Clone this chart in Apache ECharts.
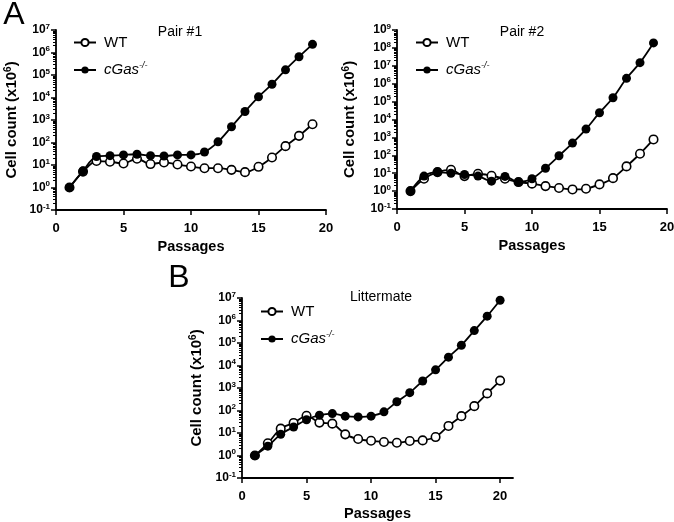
<!DOCTYPE html>
<html><head><meta charset="utf-8">
<script src="https://cdn.jsdelivr.net/npm/echarts@6/dist/echarts.min.js"></script>
<style>html,body{margin:0;padding:0;background:#fff}#c{width:674px;height:522px}</style>
</head><body><div id="c"></div>
<script>
// ---- data ----
const passagesA = [1,2,3,4,5,6,7,8,9,10,11,12,13,14,15,16,17,18,19];
const passagesB = [1,2,3,4,5,6,7,8,9,10,11,12,13,14,15,16,17,18,19,20];
const pair1WT   = [1,5.1,15,14,11.7,19,11,13,10.5,8.6,7.2,7.2,6.1,4.8,8.3,21.6,69,198,650];
const pair1cGas = [1,5.5,24,26,28,30,26,25,28,28,38,107,500,2400,10700,39000,170000,650000,2300000];
const pair2WT   = [1,4.9,11.5,15.5,6.9,9.3,7.2,4.9,3.2,2.6,1.9,1.5,1.24,1.35,2.36,5.3,24,122,770];
const pair2cGas = [1,6.9,11.5,10,8.5,6.9,3.6,6.6,3.2,4.9,19,94,480,2900,24000,163000,2.0e6,1.5e7,1.9e8];
const litWT     = [1,3.5,15.6,28,58,29,26,8.7,5.4,4.5,4.0,3.7,4.4,4.7,6.6,20.6,56,156,575,2130];
const litcGas   = [1,2.6,8.7,18.5,39,62,73,56,52,56,87,245,620,2050,6400,23500,79000,355000,1.56e6,7.9e6];
const xTicks = [0,5,10,15,20];
const panelTitles = ['Pair #1','Pair #2','Littermate'];
const seriesNames = ['WT','cGas'];

// ---- helpers ----
const FONT = 'Liberation Sans, Arial, sans-serif';
function decades(lo, hi){ const r=[]; for(let e=lo;e<=hi;e++) r.push(Math.pow(10,e)); return r; }
function expMajors(lo, hi){ const r=[]; for(let e=lo;e<=hi;e++) r.push(e); return r; }
function expMinors(lo, hi){ const r=[]; for(let e=lo;e<hi;e++) for(let k=2;k<=9;k++) r.push(e+Math.log10(k)); return r; }
function pairs(xs, ys){ return xs.map((x,i)=>[x, ys[i]]); }
const supRich = {
  b:{fontFamily:FONT,fontWeight:'bold',fontSize:12,color:'#000',lineHeight:15},
  s:{fontFamily:FONT,fontWeight:'bold',fontSize:8,color:'#000',verticalAlign:'top',lineHeight:15}
};
const nameRich = {
  s:{fontFamily:FONT,fontWeight:'bold',fontSize:10,color:'#000',verticalAlign:'top',lineHeight:18}
};
function yMain(grid, lo, hi, gap){
  const maj = decades(lo,hi);
  return {
    type:'log', gridIndex:grid, position:'left', min:Math.pow(10,lo), max:Math.pow(10,hi),
    name:'Cell count (x10{s|6})', nameLocation:'middle', nameGap:gap,
    nameTextStyle:{fontFamily:FONT,fontWeight:'bold',fontSize:15,color:'#000',lineHeight:18,rich:nameRich},
    axisLine:{show:true,lineStyle:{color:'#000',width:1.8}},
    axisTick:{show:false},
    axisLabel:{margin:6,customValues:maj,rich:supRich,
      formatter:v=>'{b|10}{s|'+Math.round(Math.log10(v))+'}'},
    splitLine:{show:false}
  };
}
// tick-only axes in exponent space (log spacing of the ticks)
function yTicks(grid, lo, hi, vals, len, w){
  return {
    type:'value', gridIndex:grid, position:'left', min:lo, max:hi,
    axisLine:{show:false}, axisLabel:{show:false}, splitLine:{show:false},
    axisTick:{show:true,inside:false,length:len,lineStyle:{color:'#000',width:w},customValues:vals}
  };
}
function xAx(grid, max, gap){
  return {
    type:'value', gridIndex:grid, min:0, max:max,
    name:'Passages', nameLocation:'middle', nameGap:gap,
    nameTextStyle:{fontFamily:FONT,fontWeight:'bold',fontSize:14.5,color:'#000'},
    axisLine:{show:true,onZero:false,lineStyle:{color:'#000',width:1.8}},
    axisTick:{show:true,inside:false,length:5,lineStyle:{color:'#000',width:1.5},customValues:xTicks},
    axisLabel:{margin:12,fontFamily:FONT,fontWeight:'bold',fontSize:13,color:'#000',customValues:xTicks},
    splitLine:{show:false}
  };
}
function ser(name, open, xi, yi, xs, ys){
  return {
    type:'line', name:name, xAxisIndex:xi, yAxisIndex:yi, data:pairs(xs,ys),
    smooth:0.3, symbol:'circle', symbolSize:open?8.5:9, showAllSymbol:true,
    lineStyle:{color:'#000',width:1.8},
    itemStyle:open?{color:'#fff',borderColor:'#000',borderWidth:1.6}:{color:'#000',borderColor:'#000',borderWidth:0},
    emphasis:{disabled:true}, animation:false, z: open?2:3
  };
}
function legend(left, top){
  return {
    left:left, top:top, padding:0, orient:'vertical', itemWidth:22, itemHeight:9, itemGap:11,
    data:seriesNames, selectedMode:false,
    textStyle:{fontFamily:FONT,fontSize:15,color:'#000',padding:[0,0,0,3],
      rich:{i:{fontFamily:FONT,fontStyle:'italic',fontSize:15,color:'#000',lineHeight:18},
            s:{fontFamily:FONT,fontStyle:'italic',fontSize:9,color:'#000',verticalAlign:'top',lineHeight:18}}},
    formatter:n=> n==='cGas' ? '{i|cGas}{s|-/-}' : n
  };
}

const chart = echarts.init(document.getElementById('c'), null, {renderer:'canvas'});
chart.setOption({
  animation:false,
  backgroundColor:'#fff',
  grid:[
    {left:56, top:30, width:270, height:180, outerBoundsMode:'none', containLabel:false},
    {left:397, top:30, width:270, height:179, outerBoundsMode:'none', containLabel:false},
    {left:242, top:298, width:271, height:180, outerBoundsMode:'none', containLabel:false}
  ],
  xAxis:[xAx(0,20,29), xAx(1,20,29), xAx(2,21,28)],
  yAxis:[yMain(0,-1,7,35), yMain(1,-1,9,38), yMain(2,-1,7,36),
         yTicks(0,-1,7,expMajors(-1,7),5,1.5), yTicks(1,-1,9,expMajors(-1,9),5,1.5), yTicks(2,-1,7,expMajors(-1,7),5,1.5),
         yTicks(0,-1,7,expMinors(-1,7),3,1), yTicks(1,-1,9,expMinors(-1,9),3,1), yTicks(2,-1,7,expMinors(-1,7),3,1)],
  legend:[legend(73,35), legend(415,35), legend(260,304)],
  series:[
    ser('WT',true,0,0,passagesA,pair1WT),
    ser('cGas',false,0,0,passagesA,pair1cGas),
    ser('WT',true,1,1,passagesA,pair2WT),
    ser('cGas',false,1,1,passagesA,pair2cGas),
    ser('WT',true,2,2,passagesB,litWT),
    ser('cGas',false,2,2,passagesB,litcGas)
  ],
  graphic:[
    {type:'text',x:180,y:32,style:{text:panelTitles[0],font:'14px '+FONT,fill:'#000',textAlign:'center',textVerticalAlign:'middle'}},
    {type:'text',x:522,y:32,style:{text:panelTitles[1],font:'14px '+FONT,fill:'#000',textAlign:'center',textVerticalAlign:'middle'}},
    {type:'text',x:381,y:297,style:{text:panelTitles[2],font:'14px '+FONT,fill:'#000',textAlign:'center',textVerticalAlign:'middle'}},
    {type:'text',x:14,y:15,style:{text:'A',font:'32px '+FONT,fill:'#000',textAlign:'center',textVerticalAlign:'middle'}},
    {type:'text',x:179,y:278,style:{text:'B',font:'32px '+FONT,fill:'#000',textAlign:'center',textVerticalAlign:'middle'}}
  ]
});
</script></body></html>
